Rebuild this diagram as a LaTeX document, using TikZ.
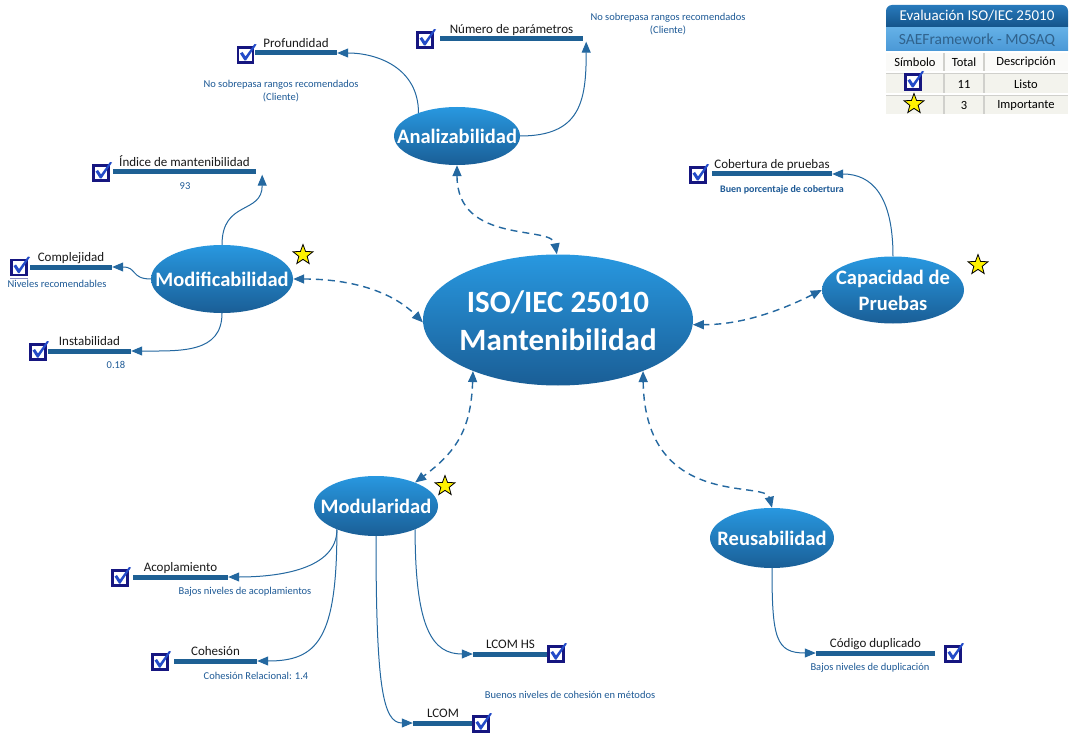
\documentclass[tikz,border=0pt]{standalone}
\usepackage{fontspec}
\setmainfont{Carlito}
\usetikzlibrary{shapes.geometric,arrows.meta,calc}
\definecolor{ellTop}{RGB}{40,152,224}
\definecolor{ellBot}{RGB}{26,94,150}
\definecolor{barC}{RGB}{30,96,148}
\definecolor{lineC}{RGB}{36,104,160}
\definecolor{noteC}{RGB}{30,90,150}
\definecolor{navy}{RGB}{22,22,128}
\definecolor{tickC}{RGB}{35,75,200}
\definecolor{hdrTop}{RGB}{40,122,188}
\definecolor{hdrBot}{RGB}{20,84,138}
\definecolor{subTop}{RGB}{100,176,230}
\definecolor{subBot}{RGB}{74,152,214}
\definecolor{subTxt}{RGB}{48,98,140}
\definecolor{tblBg}{RGB}{243,243,237}
\definecolor{tblLine}{RGB}{208,208,204}
\begin{document}
\begin{tikzpicture}[x=1pt,y=-1pt,
  ell/.style={ellipse, inner sep=0pt, top color=ellTop, bottom color=ellBot},
  etxt/.style={inner sep=0pt, text=white, font=\bfseries\fontsize{20.5}{26}\selectfont, align=center},
  bar/.style={rectangle, fill=barC, minimum height=5pt, inner sep=0pt},
  lbl/.style={anchor=base, inner sep=0pt, text=black!90, font=\fontsize{13}{15}\selectfont},
  note/.style={inner sep=0pt, text=noteC, font=\fontsize{10.5}{13}\selectfont, align=center},
  dconn/.style={draw=lineC, line width=1.4pt, dash pattern=on 7pt off 5pt, {Triangle[length=11pt,width=9pt]}-{Triangle[length=11pt,width=9pt]}},
  sconn/.style={draw=lineC, line width=1pt, -{Triangle[length=11pt,width=9pt]}},
  starn/.style={star, star points=5, star point ratio=2.4, minimum size=21pt, inner sep=0pt, fill=yellow, draw=black, line width=0.8pt},
  ltxt/.style={inner sep=0pt, font=\fontsize{12.5}{14}\selectfont},
  chk/.pic={
    \draw[navy, line width=2.4pt, fill=white] (-7.5,-7.5) rectangle (7.5,7.5);
    \fill[tickC] (-5.5,-1.5) -- (-3,-3) -- (0,1.5) -- (9,-11) -- (11,-10.5) -- (0.5,5.5) -- (-1,5.5) -- cycle;
  }
]
\useasboundingbox (0,0) rectangle (1072,733);
\fill[white] (0,0) rectangle (1072,733);

% ---------- main ellipses ----------
\node[ell, minimum width=270pt, minimum height=131pt] (cen) at (558,320) {};
\node[inner sep=0pt, text=white, font=\bfseries\fontsize{31}{38}\selectfont, align=center] (cenT) at (558,321) {ISO/IEC 25010\\Mantenibilidad};
\node[ell, minimum width=126pt, minimum height=58pt] (ana) at (457,136) {};
\node[etxt] (anaT) at (ana) {Analizabilidad};
\node[ell, minimum width=142pt, minimum height=68pt] (mod) at (222,279) {};
\node[etxt] (modT) at (mod) {Modificabilidad};
\node[ell, minimum width=142pt, minimum height=67pt] (cap) at (893,290) {};
\node[etxt, font=\bfseries\fontsize{20.5}{26}\selectfont] (capT) at (893,290) {Capacidad de\\Pruebas};
\node[ell, minimum width=124pt, minimum height=60pt] (modu) at (376,506) {};
\node[etxt] (moduT) at (modu) {Modularidad};
\node[ell, minimum width=124pt, minimum height=60pt] (reu) at (772,538) {};
\node[etxt] (reuT) at (reu) {Reusabilidad};

% ---------- stars ----------
\node[starn] (st1) at (303,255) {};
\node[starn] (st2) at (445,486) {};
\node[starn] (st3) at (978,265) {};

% ---------- dashed bidirectional connectors ----------
\draw[dconn] (ana.south) .. controls (457,245) and (552,225) .. (cen.91);
\draw[dconn] (mod.east) .. controls +(60,0) and +(-30,-30) .. (cen.181);
\draw[dconn] (cap.west) .. controls +(-40,20) and +(50,0) .. (cen.358);
\draw[dconn] (cen.211) .. controls +(-2,60) and +(40,-30) .. (modu.31);
\draw[dconn] (cen.329) .. controls (645,510) and (765,480) .. (reu.north);

% ---------- leaf bars ----------
\node[bar, minimum width=82pt]  (bP)   at (296,53) {};
\node[bar, minimum width=143pt] (bN)   at (511.5,39) {};
\node[bar, minimum width=143pt] (bI)   at (184.5,172) {};
\node[bar, minimum width=82pt]  (bC)   at (71,267) {};
\node[bar, minimum width=83pt]  (bS)   at (89.5,351) {};
\node[bar, minimum width=120pt] (bCob) at (772,174) {};
\node[bar, minimum width=95pt]  (bA)   at (180.5,577) {};
\node[bar, minimum width=83pt]  (bCoh) at (215.5,661) {};
\node[bar, minimum width=60pt]  (bL)   at (443,723) {};
\node[bar, minimum width=75pt]  (bLH)  at (510.5,654) {};
\node[bar, minimum width=119pt] (bD)   at (875.5,653) {};

% ---------- leaf labels ----------
\node[lbl] (tP)   at ([yshift=3pt]bP.north)   {Profundidad};
\node[lbl] (tN)   at ([yshift=3pt]bN.north)   {Número de parámetros};
\node[lbl] (tI)   at ([yshift=3pt]bI.north)   {Índice de mantenibilidad};
\node[lbl] (tC)   at ([yshift=3pt]bC.north)   {Complejidad};
\node[lbl] (tS)   at ([yshift=3pt]bS.north)   {Instabilidad};
\node[lbl] (tCob) at ([yshift=3pt]bCob.north) {Cobertura de pruebas};
\node[lbl] (tA)   at ([yshift=3pt]bA.north)   {Acoplamiento};
\node[lbl] (tCoh) at ([yshift=3pt]bCoh.north) {Cohesión};
\node[lbl] (tL)   at ([yshift=3pt]bL.north)   {LCOM};
\node[lbl] (tLH)  at ([yshift=3pt]bLH.north)  {LCOM HS};
\node[lbl] (tD)   at ([yshift=3pt]bD.north)   {Código duplicado};

% ---------- notes ----------
\node[note] (nP)   at (281,91)  {No sobrepasa rangos recomendados\\(Cliente)};
\node[note] (nN)   at (668,24)  {No sobrepasa rangos recomendados\\(Cliente)};
\node[note] (nI)   at (185,186) {93};
\node[note] (nC)   at (57,284)  {Niveles recomendables};
\node[note] (nS)   at (116,365) {0.18};
\node[note, font=\bfseries\fontsize{10}{12}\selectfont] (nCob) at (782,190) {Buen porcentaje de cobertura};
\node[note] (nA)   at (245,592) {Bajos niveles de acoplamientos};
\node[note] (nCoh) at (256,676) {Cohesión Relacional: 1.4};
\node[note] (nLH)  at (570,695) {Buenos niveles de cohesión en métodos};
\node[note] (nD)   at (870,668) {Bajos niveles de duplicación};

% ---------- check boxes ----------
\pic at (245.5,55) {chk};
\pic at (425,40) {chk};
\pic at (101,173) {chk};
\pic at (19,267.5) {chk};
\draw[navy!50, line width=0.8pt] (10,278) -- (28,278);
\pic at (38,352) {chk};
\pic at (698,175) {chk};
\pic at (120,578) {chk};
\pic at (160,662) {chk};
\pic at (481,724) {chk};
\pic at (556,654) {chk};
\pic at (953,654) {chk};

% ---------- solid connectors ----------
\draw[sconn] (ana.149) .. controls +(0,-45) and +(40,0) .. (bP.east);
\draw[sconn] (ana.east) .. controls +(60,0) and +(0,60) .. ([xshift=3pt]bN.south east);
\draw[sconn] (mod.north) .. controls +(0,-45) and +(0,40) .. ([xshift=6pt]bI.south east);
\draw[sconn] (mod.west) .. controls +(-20,0) and +(25,0) .. (bC.east);
\draw[sconn] (mod.south) .. controls +(0,40) and +(50,0) .. (bS.east);
\draw[sconn] (cap.north) .. controls +(0,-60) and +(40,0) .. (bCob.east);
\draw[sconn] (modu.211) .. controls +(0,40) and +(50,0) .. (bA.east);
\draw[sconn] (modu.211) .. controls +(0,110) and +(60,0) .. (bCoh.east);
\draw[sconn] (modu.south) .. controls +(0,150) and +(-30,0) .. (bL.west);
\draw[sconn] (modu.329) .. controls +(0,100) and +(-40,0) .. (bLH.west);
\draw[sconn] (reu.south) .. controls +(0,70) and +(-40,0) .. (bD.west);

% ---------- legend ----------
\shade[top color=hdrTop, bottom color=hdrBot] (886,27) {[rounded corners=6pt] -- (886,5) -- (1068,5)} -- (1068,27) -- cycle;
\shade[top color=subTop, bottom color=subBot] (886,28) rectangle (1068,51);
\fill[tblBg] (886,53) rectangle (1068,114);
\fill[white!60!tblBg] (886,53) rectangle (1068,72);
\draw[tblLine, line width=1.5pt] (944,53) -- (944,114) (984,53) -- (984,114);
\draw[white, line width=1.5pt] (886,72) -- (1068,72) (886,94) -- (1068,94);
\draw[tblLine, line width=0.6pt] (886,73) -- (1068,73) (886,95) -- (1068,95);
\node[inner sep=0pt, text=white, font=\fontsize{15}{17}\selectfont] (lg1) at (977,16) {Evaluación ISO/IEC 25010};
\node[inner sep=0pt, text=subTxt, font=\fontsize{15.5}{17}\selectfont] (lg2) at (977,40) {SAEFramework - MOSAQ};
\node[ltxt] (lh1) at (915,62) {Símbolo};
\node[ltxt] (lh2) at (964,62) {Total};
\node[ltxt] (lh3) at (1026,62) {Descripción};
\pic at (913,82) {chk};
\node[ltxt] (lr1) at (964,84) {11};
\node[ltxt] (lr2) at (1026,84) {Listo};
\node[starn] (lst) at (914,104) {};
\node[ltxt] (lr3) at (964,105) {3};
\node[ltxt] (lr4) at (1026,105) {Importante};
\end{tikzpicture}
\end{document}
